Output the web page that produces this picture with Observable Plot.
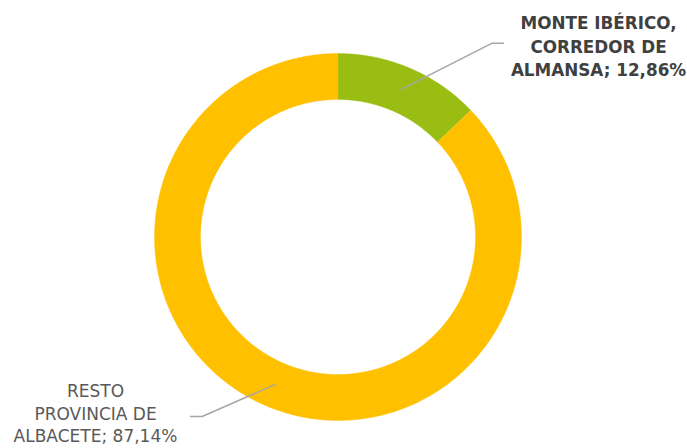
<!DOCTYPE html>
<html>
<head>
<meta charset="utf-8">
<script src="https://cdn.jsdelivr.net/npm/d3@7"></script>
<script src="https://cdn.jsdelivr.net/npm/@observablehq/plot@0.6"></script>
<style>
  html, body { margin: 0; padding: 0; background: #ffffff; }
  #chart { width: 687px; height: 448px; }
</style>
</head>
<body>
<div id="chart"></div>
<script>
// ---- Data ----
const categories = ["MONTE IBÉRICO, CORREDOR DE ALMANSA", "RESTO PROVINCIA DE ALBACETE"];
const values = [12.86, 87.14];
const valueLabels = ["12,86%", "87,14%"];
const labelLines = [
  ["MONTE IBÉRICO,", "CORREDOR DE", "ALMANSA; 12,86%"],
  ["RESTO", "PROVINCIA DE", "ALBACETE; 87,14%"]
];
const colors = ["#9ABD13", "#FFC000"];

// ---- Layout ----
const W = 687, H = 448;
const cx = 337.5, cy = 236.5;
const rOuter = 183.5, rInner = 137.5, rMid = (rOuter + rInner) / 2;

const total = d3.sum(values);
let acc = 0;
const slices = values.map((v, i) => {
  const a0 = acc / total * 2 * Math.PI;
  acc += v;
  const a1 = acc / total * 2 * Math.PI;
  return {name: categories[i], a0, a1, mid: (a0 + a1) / 2, i};
});

const pt = (r, a) => ({x: r * Math.sin(a), y: -r * Math.cos(a)});

// ring polygons
const poly = [];
for (const s of slices) {
  const n = Math.max(8, Math.ceil((s.a1 - s.a0) / Math.PI * 360));
  for (let k = 0; k <= n; k++) {
    const a = s.a0 + (s.a1 - s.a0) * k / n;
    poly.push({...pt(rOuter, a), name: s.name});
  }
  for (let k = n; k >= 0; k--) {
    const a = s.a0 + (s.a1 - s.a0) * k / n;
    poly.push({...pt(rInner, a), name: s.name});
  }
}

// label placement (relative to center)
const labelPos = [
  {x: 598 - cx, y: 44.5 - cy, elbow: {x: 491.7 - cx, y: 42.7 - cy}, end: {x: 503 - cx, y: 42.7 - cy}, weight: "bold"},
  {x: 95 - cx, y: 412 - cy, elbow: {x: 201.7 - cx, y: 416 - cy}, end: {x: 190 - cx, y: 416 - cy}, weight: "normal"}
];

const leaders = [];
slices.forEach((s, i) => {
  const p = pt(rMid, s.mid);
  leaders.push({x: p.x, y: p.y, name: s.name});
  leaders.push({x: labelPos[i].elbow.x, y: labelPos[i].elbow.y, name: s.name});
  leaders.push({x: labelPos[i].end.x, y: labelPos[i].end.y, name: s.name});
});

const labels = slices.map((s, i) => ({
  text: labelLines[i].join("\n"),
  x: labelPos[i].x, y: labelPos[i].y,
  weight: labelPos[i].weight
}));

const chart = Plot.plot({
  width: W,
  height: H,
  margin: 0,
  style: {background: "#ffffff", fontFamily: "DejaVu Sans, sans-serif"},
  x: {domain: [-cx, W - cx], range: [0, W], axis: null},
  y: {domain: [-cy, H - cy], range: [0, H], axis: null},
  color: {domain: categories, range: colors},
  marks: [
    Plot.line(poly, {x: "x", y: "y", z: "name", fill: "name", stroke: "name", strokeWidth: 0.4, curve: "linear"}),
    Plot.line(leaders, {x: "x", y: "y", z: "name", stroke: "#A6A6A6", strokeWidth: 1.5}),
    Plot.text(labels.filter(d => d.weight === "bold"), {
      x: "x", y: "y", text: "text", fill: "#404040",
      fontWeight: "bold", fontSize: 16.8, lineHeight: 23.5 / 16.8,
      textAnchor: "middle", lineAnchor: "middle"
    }),
    Plot.text(labels.filter(d => d.weight !== "bold"), {
      x: "x", y: "y", text: "text", fill: "#595959",
      fontSize: 17, lineHeight: 22.5 / 17,
      textAnchor: "middle", lineAnchor: "middle",
      letterSpacing: "0.5px"
    })
  ]
});

document.getElementById("chart").appendChild(chart);
</script>
</body>
</html>
